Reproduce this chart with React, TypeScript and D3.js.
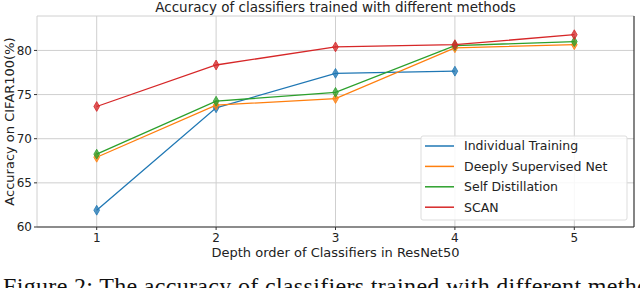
import React from "react";
import * as d3 from "d3";

const classifiers = [1, 2, 3, 4, 5];
const seriesNames = ["Individual Training", "Deeply Supervised Net", "Self Distillation", "SCAN"];
const individualTraining = [61.9, 73.5, 77.4, 77.65];
const deeplySupervised = [67.9, 73.8, 74.55, 80.3, 80.65];
const selfDistillation = [68.25, 74.25, 75.25, 80.55, 81.0];
const scan = [73.65, 78.35, 80.4, 80.65, 81.78];
const colors = ["#1f77b4", "#ff7f0e", "#2ca02c", "#d62728"];
const yTicks = [60, 65, 70, 75, 80];
const yGrid = [60, 65, 70, 75, 80];

const W = 640, H = 288;
const M = { left: 37, right: 634, top: 16, bottom: 227 };

export default function App() {
  const x = d3.scaleLinear().domain([0.5, 5.5]).range([M.left, M.right]);
  const y = d3.scaleLinear().domain([60, 83.9]).range([M.bottom, M.top]);
  const all = [individualTraining, deeplySupervised, selfDistillation, scan];
  const line = d3.line<number>().x((_, i) => x(classifiers[i])).y((d) => y(d));
  const sym = d3.symbol().type(d3.symbolDiamond).size(28)() as string;
  const font = "DejaVu Sans, sans-serif";
  const legX = 421, legY = 136, legW = 206, legH = 84;
  return (
    <svg width={W} height={H} style={{ position: "absolute", left: 0, top: 0, background: "#fff" }}>
      <rect x={0} y={0} width={W} height={H} fill="#fff" />
      {yGrid.map((t) => (
        <line key={"gy" + t} x1={M.left} x2={M.right} y1={y(t)} y2={y(t)} stroke="#cfcfcf" strokeWidth={1} />
      ))}
      {classifiers.map((c) => (
        <line key={"gx" + c} x1={x(c)} x2={x(c)} y1={M.top} y2={M.bottom} stroke="#cfcfcf" strokeWidth={1} />
      ))}
      <line x1={M.left} x2={M.right} y1={M.top} y2={M.top} stroke="#d0d0d0" />
      <line x1={M.left} x2={M.left} y1={M.top} y2={M.bottom} stroke="#d0d0d0" />
      <line x1={M.left} x2={M.right} y1={M.bottom} y2={M.bottom} stroke="#333" strokeWidth={1.2} />
      <line x1={M.right} x2={M.right} y1={M.top} y2={M.bottom} stroke="#333" strokeWidth={1.2} />
      {yTicks.map((t) => (
        <g key={"yt" + t}>
          <line x1={M.left - 3} x2={M.left} y1={y(t)} y2={y(t)} stroke="#333" />
          <text x={M.left - 5} y={y(t)} dy="0.35em" textAnchor="end" fontFamily={font} fontSize={12} fill="#222">{t}</text>
        </g>
      ))}
      {classifiers.map((c) => (
        <g key={"xt" + c}>
          <line x1={x(c)} x2={x(c)} y1={M.bottom} y2={M.bottom + 3} stroke="#333" />
          <text x={x(c)} y={M.bottom + 15} textAnchor="middle" fontFamily={font} fontSize={12} fill="#222">{c}</text>
        </g>
      ))}
      {all.map((s, k) => (
        <g key={"s" + k}>
          <path d={line(s) as string} fill="none" stroke={colors[k]} strokeWidth={1.3} />
          {s.map((v, i) => (
            <path key={i} d={sym} transform={`translate(${x(classifiers[i])},${y(v)})`} fill={colors[k]} fillOpacity={0.75} stroke={colors[k]} strokeWidth={0.8} />
          ))}
        </g>
      ))}
      <rect x={legX} y={legY} width={legW} height={legH} rx={2} fill="#fff" fillOpacity={0.85} stroke="#ddd" />
      {seriesNames.map((n, k) => (
        <g key={"l" + k}>
          <line x1={425} x2={454} y1={146 + k * 20.4} y2={146 + k * 20.4} stroke={colors[k]} strokeWidth={1.5} />
          <text x={464} y={146 + k * 20.4} dy="0.35em" fontFamily={font} fontSize={12.5} fill="#222">{n}</text>
        </g>
      ))}
      <text x={(M.left + M.right) / 2} y={12} textAnchor="middle" fontFamily={font} fontSize={13.5} fill="#222">Accuracy of classifiers trained with different methods</text>
      <text x={(M.left + M.right) / 2} y={257} textAnchor="middle" fontFamily={font} fontSize={13} fill="#222">Depth order of Classifiers in ResNet50</text>
      <text transform={`translate(14,${(M.top + M.bottom) / 2}) rotate(-90)`} textAnchor="middle" fontFamily={font} fontSize={13} fill="#222">Accuracy on CIFAR100(%)</text>
      <text x={3} y={294} fontFamily="Liberation Serif, Times New Roman, serif" fontSize={24} textLength={668} lengthAdjust="spacing" fill="#111">Figure 2: The accuracy of classifiers trained with different methods</text>
    </svg>
  );
}
